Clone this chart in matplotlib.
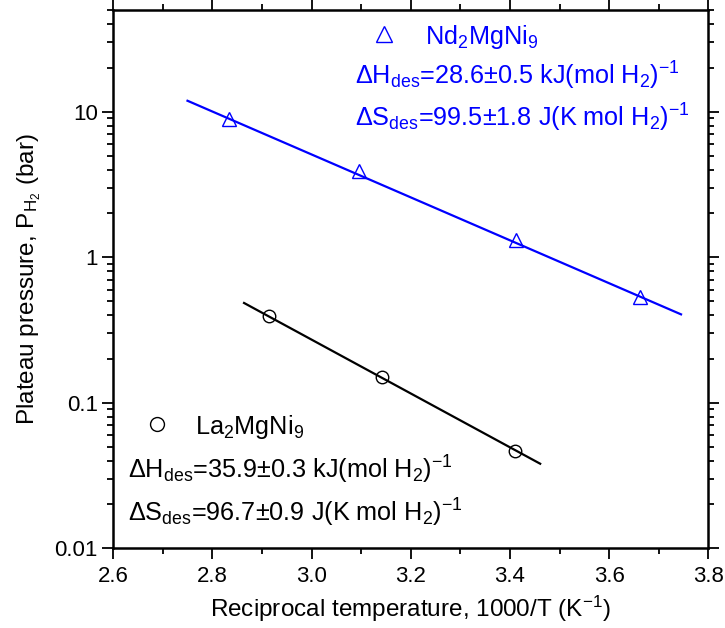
import matplotlib
matplotlib.use("Agg")
import matplotlib.pyplot as plt
from matplotlib.ticker import MultipleLocator, LogLocator, NullFormatter, FixedLocator

plt.rcParams['font.family'] = ['Liberation Sans', 'DejaVu Sans']
plt.rcParams['mathtext.fontset'] = 'custom'
plt.rcParams['mathtext.rm'] = 'Liberation Sans'
plt.rcParams['mathtext.it'] = 'Liberation Sans'
plt.rcParams['mathtext.default'] = 'regular'

# Nd2MgNi9 measured plateau pressures
nd_x = [2.834, 3.096, 3.413, 3.662]
nd_p = [8.9, 3.94, 1.32, 0.533]
# van't Hoff fit line ends
nd_fit_x = [2.75, 3.745]
nd_fit_p = [11.9, 0.405]

# La2MgNi9
la_x = [2.915, 3.143, 3.411]
la_p = [0.392, 0.150, 0.0465]
la_fit_x = [2.864, 3.461]
la_fit_p = [0.485, 0.0381]

blue = '#0000ff'

fig = plt.figure(figsize=(7.25, 6.28), dpi=100)
ax = fig.add_axes([0.156, 0.127, 0.821, 0.857])

ax.plot(nd_fit_x, nd_fit_p, color=blue, lw=1.6)
ax.plot(nd_x, nd_p, ls='none', marker='^', ms=10, mfc='none', mec=blue, mew=1.0)
ax.plot(la_fit_x, la_fit_p, color='black', lw=1.6)
ax.plot(la_x, la_p, ls='none', marker='o', ms=9, mfc='none', mec='black', mew=1.0)

ax.set_yscale('log')
ax.set_xlim(2.6, 3.8)
ax.set_ylim(0.01, 50)

ax.xaxis.set_major_locator(MultipleLocator(0.2))
ax.xaxis.set_minor_locator(MultipleLocator(0.1))
ax.xaxis.set_major_formatter(matplotlib.ticker.FormatStrFormatter('%.1f'))
ax.yaxis.set_major_locator(FixedLocator([0.01, 0.1, 1, 10]))
ax.yaxis.set_major_formatter(matplotlib.ticker.FuncFormatter(lambda v, p: '%g' % v))
ax.yaxis.set_minor_locator(LogLocator(base=10, subs=range(2, 10)))
ax.yaxis.set_minor_formatter(NullFormatter())

ax.tick_params(which='both', direction='out', top=True, right=True, labelsize=16, width=1.3)
ax.tick_params(which='major', length=8)
ax.tick_params(which='minor', length=4)
ax.tick_params(axis='y', pad=3)
ax.tick_params(axis='x', pad=5)
for s in ax.spines.values():
    s.set_linewidth(1.8)

ax.set_xlabel('Reciprocal temperature, 1000/T (K$^{-1}$)', fontsize=17.5, labelpad=5)
ax.set_ylabel('Plateau pressure, P$_{H_2}$ (bar)', fontsize=17.5, labelpad=8)

fs = 18.2
# Nd legend block
ax.plot([0.455], [0.955], transform=ax.transAxes, marker='^', ms=11, mfc='none',
        mec=blue, mew=1.0, ls='none')
ax.text(0.524, 0.937, 'Nd$_2$MgNi$_9$', transform=ax.transAxes, color=blue,
        fontsize=fs, va='baseline')
ax.text(0.407, 0.862, r'$\Delta$H$_{des}$=28.6$\pm$0.5 kJ(mol H$_2$)$^{-1}$',
        transform=ax.transAxes, color=blue, fontsize=fs, va='baseline')
ax.text(0.407, 0.783, r'$\Delta$S$_{des}$=99.5$\pm$1.8 J(K mol H$_2$)$^{-1}$',
        transform=ax.transAxes, color=blue, fontsize=fs, va='baseline')

# La legend block
ax.plot([0.074], [0.230], transform=ax.transAxes, marker='o', ms=10, mfc='none',
        mec='black', mew=1.0, ls='none')
ax.text(0.138, 0.212, 'La$_2$MgNi$_9$', transform=ax.transAxes, color='black',
        fontsize=fs, va='baseline')
ax.text(0.025, 0.130, r'$\Delta$H$_{des}$=35.9$\pm$0.3 kJ(mol H$_2$)$^{-1}$',
        transform=ax.transAxes, color='black', fontsize=fs, va='baseline')
ax.text(0.025, 0.050, r'$\Delta$S$_{des}$=96.7$\pm$0.9 J(K mol H$_2$)$^{-1}$',
        transform=ax.transAxes, color='black', fontsize=fs, va='baseline')

fig.savefig('out.png', dpi=100)
